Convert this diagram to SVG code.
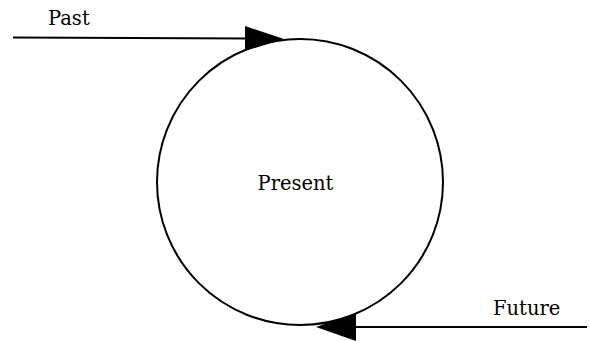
<svg xmlns="http://www.w3.org/2000/svg" width="590" height="341" viewBox="0 0 590 341">
<style>
.lbl{font-family:"DejaVu Serif","Liberation Serif",serif;font-size:19.5px;fill:#000}
.ln{stroke:#000;stroke-width:2;fill:none}
.ah{fill:#000;stroke:none}
</style>
<rect width="590" height="341" fill="#fff"/>
<g id="present">
<circle cx="300" cy="182" r="143" class="ln" stroke-width="2.5"/>
<text class="lbl" x="295.5" y="190" text-anchor="middle">Present</text>
</g>
<g id="past">
<text class="lbl" x="48" y="25">Past</text>
</g>
<g id="future">
<text class="lbl" x="493" y="315">Future</text>
</g>
<g id="connectors">
<line class="ln" x1="13" y1="37.5" x2="250" y2="38.5"/>
<polygon class="ah" points="245,26 284,39 245,51"/>
<line class="ln" x1="587" y1="327" x2="350" y2="327"/>
<polygon class="ah" points="356,313 316,327 356,341"/>
</g>
</svg>
